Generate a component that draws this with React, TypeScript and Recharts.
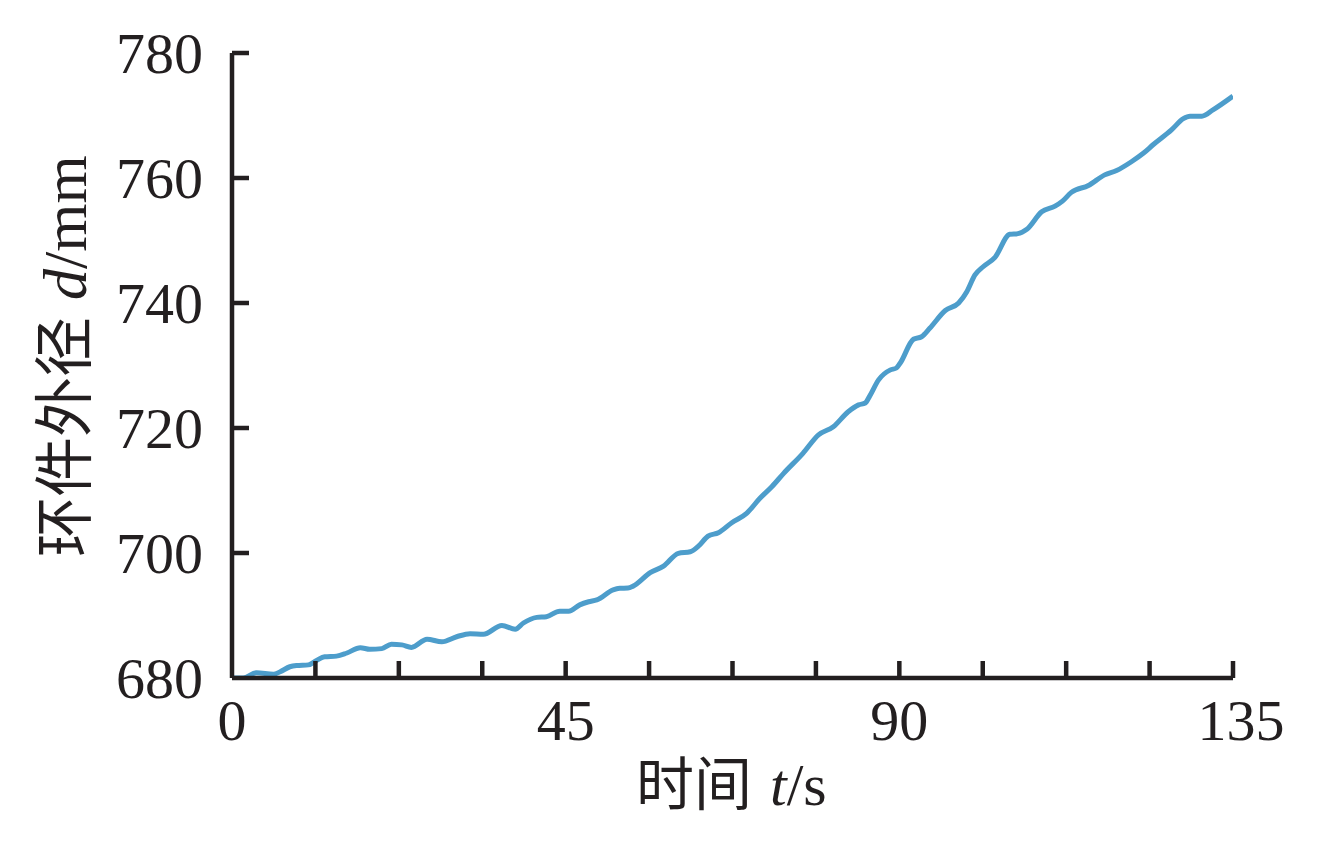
import React from 'react';
import { LineChart, Line, XAxis, YAxis } from 'recharts';

const timeValues: number[] = [
  0, 1.5, 3.3, 5.6, 6.5, 7.8, 8.7, 10.3, 11.4, 12.5, 14.1, 15.5, 17.3, 18.6, 20.2, 21.5, 22.9, 24.2,
  26.3, 28.3, 30.3, 32.1, 33.9, 36.4, 38.2, 39.3, 41.1, 42.4, 44.2, 45.4, 46.9, 48.1, 49.2, 51.4,
  52.3, 53.4, 54.1, 56.4, 58.2, 60.2, 61.8, 62.9, 64.2, 65.6, 67.4, 69.4, 71.2, 72.8, 74.4, 77.0,
  79.1, 81.1, 83.1, 84.5, 85.4, 86.0, 87.2, 88.8, 89.6, 90.1, 91.9, 93.0, 94.1, 96.2, 98.0, 99.1,
  100.2, 101.3, 102.9, 104.9, 106.0, 107.2, 109.2, 111.0, 112.0, 113.2, 115.5, 117.7, 119.3, 121.3,
  122.9, 124.3, 126.7, 128.3, 129.2, 130.8, 132.3, 135,
];

const diameterValues: number[] = [
  680.0, 680.0, 680.85, 680.6, 681.0, 681.8, 682.0, 682.1, 682.8, 683.4, 683.5, 684.0, 684.85, 684.6,
  684.7, 685.4, 685.3, 684.9, 686.2, 685.8, 686.6, 687.1, 687.0, 688.4, 687.8, 688.8, 689.7, 689.8,
  690.7, 690.7, 691.7, 692.2, 692.5, 694.1, 694.35, 694.4, 694.7, 696.85, 697.9, 699.95, 700.2, 701.1,
  702.7, 703.25, 704.85, 706.35, 708.75, 710.6, 712.75, 715.95, 718.9, 720.2, 722.6, 723.7, 724.0,
  725.1, 727.7, 729.3, 729.6, 730.35, 734.2, 734.6, 735.95, 738.8, 740.0, 741.8, 744.5, 745.8, 747.3,
  751.0, 751.1, 751.8, 754.6, 755.5, 756.3, 757.7, 758.8, 760.5, 761.2, 762.6, 763.95, 765.4, 767.7,
  769.5, 769.9, 769.9, 770.9, 773.1,
];

const xTicks: number[] = [0, 11.25, 22.5, 33.75, 45, 56.25, 67.5, 78.75, 90, 101.25, 112.5, 123.75, 135];
const xLabelTicks: number[] = [0, 45, 90, 135];
const yTicks: number[] = [680, 700, 720, 740, 760, 780];

const data = timeValues.map((t, i) => ({ t, d: diameterValues[i] }));

const AXIS_COLOR = '#231f20';
const LINE_COLOR = '#4d9dcb';
const SERIF = '"Liberation Serif", "Times New Roman", serif';
const CJK = '"Noto Sans CJK SC", "Noto Sans CJK JP", sans-serif';

const XTick = (props: any) => {
  const { x, y, payload } = props;
  const v = payload.value as number;
  const showLabel = xLabelTicks.includes(v);
  const isLast = v === 135;
  return (
    <g>
      {v !== 0 && <line x1={x} y1={y} x2={x} y2={y - 17} stroke={AXIS_COLOR} strokeWidth={4.5} />}
      {showLabel && (
        <text x={x + (isLast ? 8 : 0)} y={y + 62} textAnchor="middle" fontFamily={SERIF} fontSize={58} fill={AXIS_COLOR}>
          {v}
        </text>
      )}
    </g>
  );
};

const YTick = (props: any) => {
  const { x, y, payload } = props;
  const v = payload.value as number;
  return (
    <g>
      {v !== 680 && <line x1={x} y1={y} x2={x + 17} y2={y} stroke={AXIS_COLOR} strokeWidth={4.5} />}
      <text x={x - 29} y={y + 20} textAnchor="end" fontFamily={SERIF} fontSize={58} fill={AXIS_COLOR}>
        {v}
      </text>
    </g>
  );
};

const XTitle = () => (
  <text x={636} y={805} fill={AXIS_COLOR}>
    <tspan fontFamily={CJK} fontSize={58}>时间</tspan>
    <tspan fontFamily={SERIF} fontSize={60} fontStyle="italic" dx={18}>t</tspan>
    <tspan fontFamily={SERIF} fontSize={60}>/s</tspan>
  </text>
);

const YTitle = () => (
  <text transform="translate(86, 557) rotate(-90)" fill={AXIS_COLOR}>
    <tspan fontFamily={CJK} fontSize={60}>环件外径</tspan>
    <tspan fontFamily={SERIF} fontSize={62} fontStyle="italic" dx={17}>d</tspan>
    <tspan fontFamily={SERIF} fontSize={62}>/mm</tspan>
  </text>
);

export default function App() {
  return (
    <div style={{ position: 'absolute', left: 0, top: 0, width: 1320, height: 850, background: '#fff' }}>
      <LineChart
        width={1320}
        height={850}
        data={data}
        margin={{ top: 53, right: 87, bottom: 72, left: 132 }}
      >
        <XAxis
          dataKey="t"
          type="number"
          domain={[0, 135]}
          ticks={xTicks}
          interval={0}
          height={100}
          tickSize={0}
          tickMargin={0}
          tickLine={false}
          axisLine={{ stroke: AXIS_COLOR, strokeWidth: 4.5 }}
          tick={<XTick />}
          allowDataOverflow
          label={{ content: <XTitle /> } as any}
        />
        <YAxis
          type="number"
          domain={[680, 780]}
          ticks={yTicks}
          interval={0}
          width={100}
          tickSize={0}
          tickMargin={0}
          tickLine={false}
          axisLine={{ stroke: AXIS_COLOR, strokeWidth: 4.5 }}
          tick={<YTick />}
          allowDataOverflow
          label={{ content: <YTitle /> } as any}
        />
        <Line
          type="monotone"
          dataKey="d"
          stroke={LINE_COLOR}
          strokeWidth={5}
          dot={false}
          isAnimationActive={false}
        />
      </LineChart>
    </div>
  );
}
